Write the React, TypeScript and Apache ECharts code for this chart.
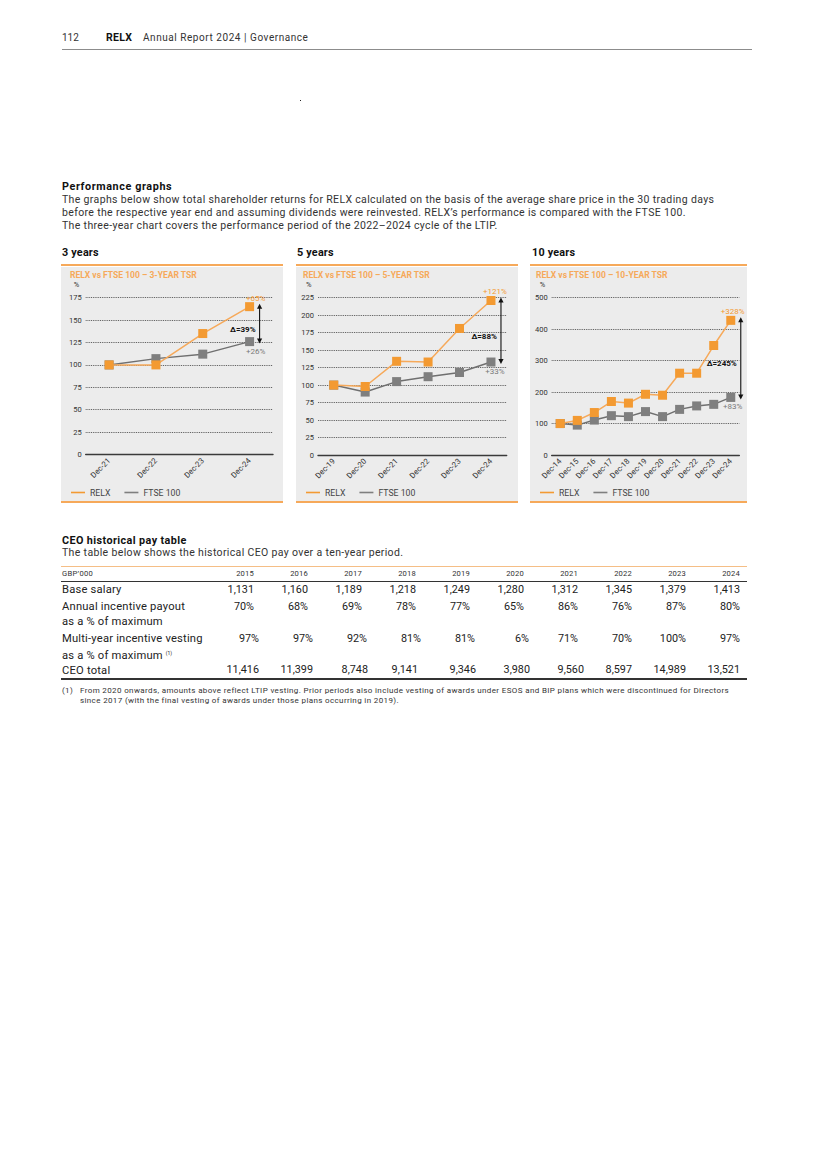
import React, { useEffect, useRef } from "react";
import * as echarts from "echarts";

const FONT = "Roboto, 'Noto Sans', sans-serif";
const ORANGE = "#f39a32";
const ORANGE_LINE = "#f6a95a";
const GREY_MARK = "#7f7f7f";
const GREY_LINE = "#6f6f6f";

// ---- chart data ----
const cats3 = ["Dec-21", "Dec-22", "Dec-23", "Dec-24"];
const relx3 = [100, 100, 135, 165];
const ftse3 = [100, 107, 112, 126];

const cats5 = ["Dec-19", "Dec-20", "Dec-21", "Dec-22", "Dec-23", "Dec-24"];
const relx5 = [100, 98, 134, 133, 181, 221];
const ftse5 = [100, 90, 105, 112, 118, 133];

const cats10 = ["Dec-14", "Dec-15", "Dec-16", "Dec-17", "Dec-18", "Dec-19", "Dec-20", "Dec-21", "Dec-22", "Dec-23", "Dec-24"];
const relx10 = [100, 110, 135, 170, 165, 193, 190, 260, 260, 348, 428];
const ftse10 = [100, 95, 111, 125, 122, 138, 122, 145, 156, 161, 183];

const legendNames = ["RELX", "FTSE 100"];

// ---- table data ----
const payYears = ["2015", "2016", "2017", "2018", "2019", "2020", "2021", "2022", "2023", "2024"];
const baseSalary = [1131, 1160, 1189, 1218, 1249, 1280, 1312, 1345, 1379, 1413];
const annualIncentive = [70, 68, 69, 78, 77, 65, 86, 76, 87, 80];
const multiYearVesting = [97, 97, 92, 81, 81, 6, 71, 70, 100, 97];
const ceoTotal = [11416, 11399, 8748, 9141, 9346, 3980, 9560, 8597, 14989, 13521];

// layout-only shifts of individual cells (px)
const multiShift = [5, 5, 5, 5, 5, 5, 0, 0, 0, 0];
const ceoShift = [5, 5, 6, 2, 6, 6, 6, 0, 0, 0];

const fmt = (n: number) => n.toLocaleString("en-GB");

type TProps = {
  x: number;
  y: number;
  s: number;
  c?: string;
  b?: boolean;
  a?: "left" | "right";
  ls?: number;
  children: React.ReactNode;
};

function T({ x, y, s, c = "#333", b = false, a = "left", ls = 0, children }: TProps) {
  const style: React.CSSProperties = {
    position: "absolute",
    top: y - 0.6 * s,
    fontSize: s,
    lineHeight: `${1.2 * s}px`,
    fontWeight: b ? 700 : 400,
    color: c,
    whiteSpace: "nowrap",
    letterSpacing: ls,
    fontFamily: FONT,
  };
  if (a === "right") {
    style.left = x - 200;
    style.width = 200;
    style.textAlign = "right";
  } else {
    style.left = x;
  }
  return <div style={style}>{children}</div>;
}

function HLine({ x, y, w, h, c }: { x: number; y: number; w: number; h: number; c: string }) {
  return <div style={{ position: "absolute", left: x, top: y - h / 2, width: w, height: h, background: c }} />;
}

type ChartProps = {
  cats: string[];
  relx: number[];
  ftse: number[];
  yMax: number;
  yInterval: number;
  title: string;
  left: number;
  width: number;
  grid: { left: number; right: number; top: number; bottom: number };
  titleLeft: number;
  labelDx: number;
};

const PANEL_TOP = 267;
const PANEL_H = 234;

function TsrChart(p: ChartProps) {
  const ref = useRef<HTMLDivElement>(null);
  useEffect(() => {
    if (!ref.current) return;
    const chart = echarts.init(ref.current, null, { renderer: "svg" });
    const last = p.cats.length - 1;
    chart.setOption({
      animation: false,
      backgroundColor: "#ececec",
      textStyle: { fontFamily: FONT },
      title: {
        text: p.title,
        left: p.titleLeft,
        top: 3,
        padding: 0,
        textStyle: { color: ORANGE_LINE, fontSize: 8.5, fontWeight: "bold", fontFamily: FONT },
      },
      graphic: [
        {
          type: "text",
          left: p.grid.left - 12,
          top: 13,
          style: { text: "%", fontSize: 7.5, fill: "#333", fontFamily: FONT },
        },
      ],
      legend: {
        data: legendNames,
        left: 10,
        top: 221,
        padding: 0,
        icon: "rect",
        itemWidth: 14,
        itemHeight: 1.6,
        itemGap: 14,
        textStyle: { fontSize: 8.7, color: "#444", fontFamily: FONT },
      },
      grid: p.grid,
      xAxis: {
        type: "category",
        data: p.cats,
        boundaryGap: true,
        axisLine: { lineStyle: { color: "#3a3a3a", width: 1.4 } },
        axisTick: { show: false },
        axisLabel: { rotate: 45, fontSize: 7.8, color: "#333", margin: 5, interval: 0, fontFamily: FONT },
      },
      yAxis: {
        type: "value",
        min: 0,
        max: p.yMax,
        interval: p.yInterval,
        axisLine: { show: false },
        axisTick: { show: false },
        splitLine: { lineStyle: { type: "dotted", color: "#444", width: 0.9 } },
        axisLabel: { fontSize: 7.5, color: "#333", margin: 4, fontFamily: FONT },
      },
      series: [
        {
          name: "FTSE 100",
          type: "line",
          data: p.ftse,
          symbol: "rect",
          symbolSize: 9,
          lineStyle: { color: GREY_LINE, width: 1.5 },
          itemStyle: { color: GREY_MARK },
          label: {
            show: true,
            position: "bottom",
            distance: 1,
            offset: [p.labelDx, 0],
            fontSize: 8,
            color: "#7a7a7a",
            fontFamily: FONT,
            formatter: (q: any) => (q.dataIndex === last ? `+${q.value - 100}%` : ""),
          },
          z: 2,
        },
        {
          name: "RELX",
          type: "line",
          data: p.relx,
          symbol: "rect",
          symbolSize: 9,
          lineStyle: { color: ORANGE_LINE, width: 1.5 },
          itemStyle: { color: ORANGE },
          label: {
            show: true,
            position: "top",
            distance: 1,
            offset: [p.labelDx, 1],
            fontSize: 8,
            color: ORANGE,
            fontFamily: FONT,
            formatter: (q: any) => (q.dataIndex === last ? `+${q.value - 100}%` : ""),
          },
          z: 3,
        },
        {
          type: "custom",
          data: [[last, p.relx[last], p.ftse[last]]],
          z: 5,
          renderItem: (_params: any, api: any) => {
            const a = api.coord([api.value(0), api.value(1)]);
            const b = api.coord([api.value(0), api.value(2)]);
            const x = a[0] + 10;
            const y1 = a[1] - 3;
            const y2 = b[1] + 2;
            const delta = api.value(1) - api.value(2);
            return {
              type: "group",
              children: [
                { type: "line", shape: { x1: x, y1: y1 + 3, x2: x, y2: y2 - 3 }, style: { stroke: "#111", lineWidth: 1.1 } },
                { type: "polygon", shape: { points: [[x, y1], [x - 2.6, y1 + 5], [x + 2.6, y1 + 5]] }, style: { fill: "#111" } },
                { type: "polygon", shape: { points: [[x, y2], [x - 2.6, y2 - 5], [x + 2.6, y2 - 5]] }, style: { fill: "#111" } },
                {
                  type: "text",
                  style: {
                    text: `Δ=${delta}%`,
                    x: x - 4,
                    y: (a[1] + b[1]) / 2 + 5,
                    align: "right",
                    verticalAlign: "middle",
                    fontSize: 8,
                    fontWeight: "bold",
                    fontFamily: FONT,
                    fill: "#111",
                  },
                },
              ],
            };
          },
        },
      ],
    });
    return () => chart.dispose();
  }, []);
  return (
    <>
      <HLine x={p.left} y={265} w={p.width} h={1.5} c={ORANGE_LINE} />
      <div ref={ref} style={{ position: "absolute", left: p.left, top: PANEL_TOP, width: p.width, height: PANEL_H }} />
      <HLine x={p.left} y={501.8} w={p.width} h={1.5} c={ORANGE_LINE} />
    </>
  );
}

const colRight = (i: number) => 254 + 54 * i;

const BODY = 10.5;
const BODY_LS = 0.35;
const ROW = 11.2;
const ROW_LS = 0.2;

export default function App() {
  return (
    <div style={{ position: "absolute", left: 0, top: 0, width: 825, height: 1168, background: "#fff", fontFamily: FONT }}>
      {/* header */}
      <T x={62} y={38} s={10} c="#333">112</T>
      <T x={106} y={38} s={10.5} b c="#111" ls={0.3}>RELX</T>
      <T x={143} y={38} s={10} c="#333" ls={0.55}>Annual Report 2024 | Governance</T>
      <HLine x={62} y={49.3} w={690} h={1.5} c="#8c8c8c" />
      <div style={{ position: "absolute", left: 300, top: 100, width: 1, height: 1, background: "#222" }} />

      {/* intro */}
      <T x={62} y={187} s={10.8} b c="#111" ls={0.6}>Performance graphs</T>
      <T x={62} y={200} s={BODY} c="#333" ls={BODY_LS}>The graphs below show total shareholder returns for RELX calculated on the basis of the average share price in the 30 trading days</T>
      <T x={62} y={213} s={BODY} c="#333" ls={BODY_LS}>before the respective year end and assuming dividends were reinvested. RELX’s performance is compared with the FTSE 100.</T>
      <T x={62} y={226} s={BODY} c="#333" ls={BODY_LS}>The three-year chart covers the performance period of the 2022–2024 cycle of the LTIP.</T>

      <T x={62} y={253} s={10.8} b c="#111" ls={0.2}>3 years</T>
      <T x={297} y={253} s={10.8} b c="#111" ls={0.2}>5 years</T>
      <T x={532} y={253} s={10.8} b c="#111" ls={0.2}>10 years</T>

      <TsrChart
        cats={cats3}
        relx={relx3}
        ftse={ftse3}
        yMax={175}
        yInterval={25}
        title="RELX vs FTSE 100 – 3-YEAR TSR"
        left={61}
        width={222}
        grid={{ left: 24.7, right: 10, top: 30.7, bottom: 46.5 }}
        titleLeft={9}
        labelDx={6}
      />
      <TsrChart
        cats={cats5}
        relx={relx5}
        ftse={ftse5}
        yMax={225}
        yInterval={25}
        title="RELX vs FTSE 100 – 5-YEAR TSR"
        left={296}
        width={222}
        grid={{ left: 22, right: 11.3, top: 30.7, bottom: 46 }}
        titleLeft={7}
        labelDx={4}
      />
      <TsrChart
        cats={cats10}
        relx={relx10}
        ftse={ftse10}
        yMax={500}
        yInterval={100}
        title="RELX vs FTSE 100 – 10-YEAR TSR"
        left={530}
        width={217}
        grid={{ left: 21.7, right: 7.7, top: 30.7, bottom: 46 }}
        titleLeft={6}
        labelDx={2}
      />

      {/* CEO pay table */}
      <T x={62} y={541} s={10.8} b c="#111" ls={0.4}>CEO historical pay table</T>
      <T x={62} y={553} s={BODY} c="#333" ls={BODY_LS}>The table below shows the historical CEO pay over a ten-year period.</T>
      <HLine x={61} y={566.5} w={686} h={1.5} c="#f5be86" />
      <T x={62} y={574} s={7.6} c="#333" ls={0.3}>GBP’000</T>
      {payYears.map((yr, i) => (
        <T key={"y" + yr} x={colRight(i)} y={574} s={7.6} a="right" c="#333" ls={0.2}>{yr}</T>
      ))}
      <HLine x={61} y={581} w={686} h={1} c="#333" />

      <T x={62} y={590} s={ROW} c="#222" ls={ROW_LS}>Base salary</T>
      {baseSalary.map((v, i) => (
        <T key={"b" + i} x={colRight(i)} y={590} s={10.8} a="right" c="#222">{fmt(v)}</T>
      ))}

      <T x={62} y={607} s={ROW} c="#222" ls={ROW_LS}>Annual incentive payout</T>
      <T x={62} y={621.5} s={ROW} c="#222" ls={ROW_LS}>as a % of maximum</T>
      {annualIncentive.map((v, i) => (
        <T key={"a" + i} x={colRight(i)} y={607} s={10.8} a="right" c="#222">{v}%</T>
      ))}

      <T x={62} y={639} s={ROW} c="#222" ls={ROW_LS}>Multi-year incentive vesting</T>
      <T x={62} y={654} s={ROW} c="#222" ls={ROW_LS}>
        as a % of maximum <span style={{ fontSize: 5, verticalAlign: 4, letterSpacing: 0 }}>(1)</span>
      </T>
      {multiYearVesting.map((v, i) => (
        <T key={"m" + i} x={colRight(i) + multiShift[i]} y={639} s={10.8} a="right" c="#222">{v}%</T>
      ))}

      <T x={62} y={670.5} s={ROW} c="#222" ls={ROW_LS}>CEO total</T>
      {ceoTotal.map((v, i) => (
        <T key={"c" + i} x={colRight(i) + ceoShift[i]} y={670.5} s={10.8} a="right" c="#222">{fmt(v)}</T>
      ))}
      <HLine x={61} y={679} w={686} h={1.5} c="#333" />

      <T x={62} y={691} s={8} c="#333" ls={0.37}>(1)</T>
      <T x={80} y={691} s={8} c="#333" ls={0.37}>From 2020 onwards, amounts above reflect LTIP vesting. Prior periods also include vesting of awards under ESOS and BIP plans which were discontinued for Directors</T>
      <T x={80} y={701} s={8} c="#333" ls={0.37}>since 2017 (with the final vesting of awards under those plans occurring in 2019).</T>
    </div>
  );
}
